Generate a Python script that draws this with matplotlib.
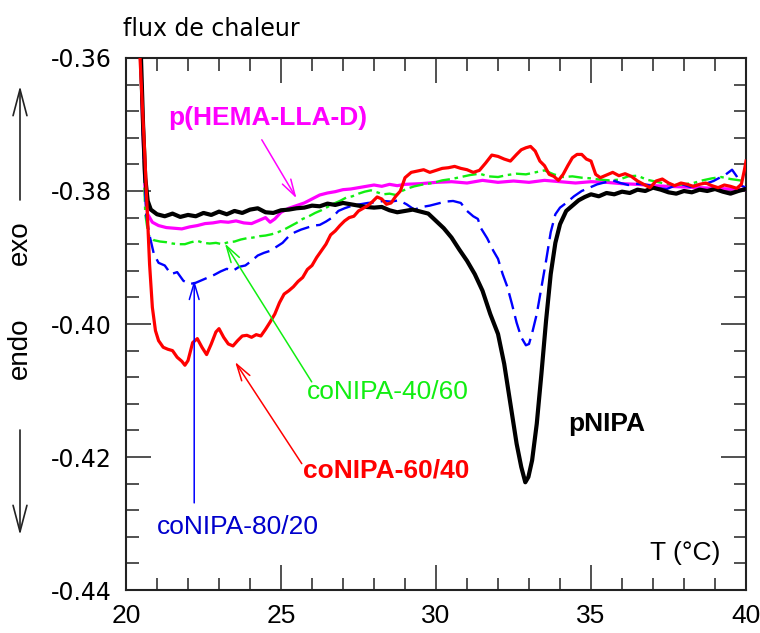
import matplotlib
matplotlib.use("Agg")
import matplotlib.pyplot as plt
from matplotlib.ticker import MultipleLocator

plt.rcParams['axes.unicode_minus'] = False

# ---------------- data ----------------
T_black = [20.45, 20.55, 20.62, 20.7, 20.8, 21.0, 21.25, 21.5, 21.75, 22.0, 22.25, 22.5, 22.75,
           23.0, 23.25, 23.5, 23.75, 24.0, 24.25, 24.5, 24.75, 25.0, 25.25, 25.5, 25.75, 26.0,
           26.25, 26.5, 26.75, 27.0, 27.25, 27.5, 27.75, 28.0, 28.25, 28.5, 28.75, 29.0, 29.25,
           29.5, 29.75, 30.0, 30.25, 30.5, 30.75, 31.0, 31.25, 31.5, 31.75, 32.0, 32.2, 32.4,
           32.6, 32.75, 32.88, 32.98, 33.1, 33.25, 33.4, 33.55, 33.7, 33.85, 34.0, 34.2, 34.4,
           34.6, 34.8, 35.0, 35.25, 35.5, 35.75, 36.0, 36.25, 36.5, 36.75, 37.0, 37.25, 37.5,
           37.75, 38.0, 38.25, 38.5, 38.75, 39.0, 39.25, 39.5, 39.75, 40.0]
Q_black = [-0.355, -0.370, -0.378, -0.3815, -0.3828, -0.3835, -0.3838, -0.3834, -0.3839, -0.3836,
           -0.3838, -0.3833, -0.3836, -0.3831, -0.3835, -0.3830, -0.3833, -0.3828, -0.3826, -0.3832,
           -0.3833, -0.3829, -0.3828, -0.3826, -0.3825, -0.3822, -0.3823, -0.3819, -0.3821, -0.3818,
           -0.3820, -0.3822, -0.3824, -0.3825, -0.3824, -0.3829, -0.3832, -0.3830, -0.3828, -0.3831,
           -0.3834, -0.3845, -0.3856, -0.3870, -0.3888, -0.3905, -0.3925, -0.3950, -0.3985, -0.4015,
           -0.4060, -0.4120, -0.4180, -0.4215, -0.4238, -0.4230, -0.4205, -0.4150, -0.4075, -0.3995,
           -0.3925, -0.3878, -0.3850, -0.3830, -0.3822, -0.3814, -0.3809, -0.3805, -0.3808, -0.3803,
           -0.3805, -0.3801, -0.3803, -0.3798, -0.3800, -0.3795, -0.3798, -0.3802, -0.3804, -0.3800,
           -0.3802, -0.3798, -0.3800, -0.3797, -0.3801, -0.3804, -0.3800, -0.3797]

T_blue = [20.45, 20.55, 20.65, 20.75, 20.9, 21.05, 21.25, 21.45, 21.65, 21.85, 22.05, 22.25, 22.45,
          22.65, 22.85, 23.05, 23.25, 23.45, 23.65, 23.85, 24.05, 24.25, 24.45, 24.65, 24.85, 25.05,
          25.25, 25.45, 25.65, 25.85, 26.05, 26.25, 26.45, 26.65, 26.85, 27.05, 27.3, 27.55, 27.8,
          28.05, 28.3, 28.55, 28.8, 29.05, 29.3, 29.55, 29.8, 30.05, 30.3, 30.55, 30.8, 31.0, 31.2,
          31.35, 31.45, 31.65, 31.85, 32.0, 32.15, 32.3, 32.45, 32.6, 32.75, 32.9, 33.0, 33.12,
          33.25, 33.4, 33.55, 33.7, 33.85, 34.0, 34.2, 34.45, 34.7, 34.95, 35.2, 35.45, 35.7, 35.95,
          36.2, 36.45, 36.7, 36.95, 37.2, 37.45, 37.7, 37.95, 38.2, 38.45, 38.7, 38.95, 39.15,
          39.35, 39.55, 39.7, 39.85, 40.0]
Q_blue = [-0.355, -0.372, -0.3835, -0.3865, -0.3895, -0.3908, -0.3912, -0.3925, -0.3922, -0.3935,
          -0.3940, -0.3938, -0.3934, -0.3930, -0.3926, -0.3921, -0.3917, -0.3920, -0.3914, -0.3912,
          -0.3905, -0.3897, -0.3893, -0.3890, -0.3884, -0.3878, -0.3868, -0.3862, -0.3858, -0.3855,
          -0.3852, -0.3851, -0.3846, -0.3840, -0.3830, -0.3826, -0.3822, -0.3820, -0.3818, -0.3817,
          -0.3815, -0.3816, -0.3814, -0.3820, -0.3828, -0.3824, -0.3822, -0.3819, -0.3816, -0.3815,
          -0.3818, -0.3830, -0.3838, -0.3842, -0.3856, -0.3871, -0.3890, -0.3902, -0.3925, -0.3944,
          -0.3970, -0.3998, -0.4020, -0.4032, -0.4030, -0.4010, -0.3985, -0.3945, -0.3905, -0.3862,
          -0.3835, -0.3825, -0.3818, -0.3808, -0.3800, -0.3795, -0.3790, -0.3787, -0.3784, -0.3788,
          -0.3791, -0.3789, -0.3790, -0.3792, -0.3796, -0.3797, -0.3792, -0.3790, -0.3794, -0.3790,
          -0.3789, -0.3785, -0.3780, -0.3775, -0.3768, -0.3778, -0.3792, -0.3795]

T_red = [20.4, 20.5, 20.6, 20.68, 20.76, 20.85, 20.95, 21.05, 21.2, 21.35, 21.5, 21.65, 21.8, 21.9,
         22.0, 22.15, 22.3, 22.45, 22.6, 22.75, 22.9, 23.0, 23.15, 23.3, 23.45, 23.6, 23.75, 23.9,
         24.05, 24.2, 24.35, 24.5, 24.65, 24.8, 24.95, 25.1, 25.25, 25.4, 25.55, 25.7, 25.85, 26.0,
         26.15, 26.3, 26.45, 26.6, 26.75, 26.9, 27.05, 27.2, 27.35, 27.5, 27.65, 27.8, 27.95, 28.1,
         28.25, 28.4, 28.55, 28.7, 28.85, 29.0, 29.2, 29.4, 29.6, 29.8, 30.0, 30.2, 30.4, 30.6,
         30.8, 31.0, 31.2, 31.4, 31.6, 31.8, 32.0, 32.2, 32.4, 32.6, 32.75, 32.9, 33.05, 33.2,
         33.35, 33.5, 33.65, 33.8, 33.95, 34.1, 34.25, 34.4, 34.55, 34.7, 34.85, 35.0, 35.15, 35.3,
         35.5, 35.7, 35.9, 36.1, 36.3, 36.5, 36.7, 36.9, 37.1, 37.3, 37.5, 37.7, 37.9, 38.1, 38.3,
         38.5, 38.7, 38.9, 39.1, 39.3, 39.5, 39.7, 39.85, 39.95, 40.0]
Q_red = [-0.355, -0.3646, -0.374, -0.3825, -0.391, -0.3975, -0.4010, -0.4025, -0.4035, -0.4038,
         -0.4040, -0.4050, -0.4056, -0.4062, -0.4055, -0.4028, -0.4022, -0.4035, -0.4046, -0.4030,
         -0.4012, -0.4007, -0.4020, -0.4030, -0.4033, -0.4025, -0.4018, -0.4017, -0.4020, -0.4016,
         -0.4018, -0.4008, -0.3997, -0.3985, -0.3968, -0.3955, -0.3950, -0.3944, -0.3936, -0.3930,
         -0.3918, -0.3912, -0.3900, -0.3890, -0.3880, -0.3866, -0.3860, -0.3852, -0.3845, -0.3840,
         -0.3838, -0.3830, -0.3826, -0.3822, -0.3816, -0.3809, -0.3812, -0.3820, -0.3818, -0.3808,
         -0.3800, -0.3780, -0.3772, -0.3770, -0.3768, -0.3772, -0.3769, -0.3766, -0.3765, -0.3763,
         -0.3766, -0.3768, -0.3772, -0.3769, -0.3758, -0.3746, -0.3748, -0.3752, -0.3755, -0.3745,
         -0.3738, -0.3735, -0.3733, -0.3740, -0.3755, -0.3762, -0.3775, -0.3778, -0.3784, -0.3775,
         -0.3762, -0.3750, -0.3745, -0.3745, -0.3752, -0.3755, -0.3775, -0.3780, -0.3776, -0.3772,
         -0.3777, -0.3774, -0.3778, -0.3785, -0.3790, -0.3795, -0.3785, -0.3782, -0.3788, -0.3792,
         -0.3788, -0.3790, -0.3793, -0.3790, -0.3788, -0.3792, -0.3795, -0.3791, -0.3793, -0.3796,
         -0.3790, -0.3768, -0.3755]

T_mag = [20.45, 20.55, 20.62, 20.7, 20.85, 21.05, 21.3, 21.55, 21.8, 22.05, 22.3, 22.55, 22.8, 23.05,
         23.3, 23.55, 23.8, 24.05, 24.3, 24.5, 24.65, 24.8, 25.0, 25.25, 25.5, 25.75, 26.0, 26.25,
         26.5, 26.75, 27.0, 27.25, 27.5, 27.75, 28.0, 28.25, 28.5, 28.75, 29.0, 29.5, 30.0, 30.5,
         31.0, 31.5, 32.0, 32.5, 33.0, 33.5, 34.0, 34.5, 35.0, 35.5, 36.0, 36.5, 37.0, 37.5, 38.0,
         38.5, 39.0, 39.5, 40.0]
Q_mag = [-0.355, -0.372, -0.3805, -0.3835, -0.3847, -0.3852, -0.3855, -0.3856, -0.3857, -0.3854,
         -0.3852, -0.3849, -0.3848, -0.3846, -0.3847, -0.3845, -0.3848, -0.3849, -0.3844, -0.3840,
         -0.3847, -0.3842, -0.3832, -0.3826, -0.3822, -0.3818, -0.3812, -0.3806, -0.3803, -0.3801,
         -0.3798, -0.3797, -0.3795, -0.3793, -0.3791, -0.3793, -0.3790, -0.3792, -0.3790, -0.3789,
         -0.3787, -0.3786, -0.3788, -0.3784, -0.3787, -0.3785, -0.3787, -0.3784, -0.3786, -0.3788,
         -0.3786, -0.3787, -0.3789, -0.3790, -0.3792, -0.3793, -0.3794, -0.3795, -0.3796, -0.3797,
         -0.3798]

T_green = [20.45, 20.55, 20.62, 20.72, 20.9, 21.1, 21.3, 21.5, 21.7, 21.9, 22.1, 22.3, 22.5, 22.7,
           22.9, 23.1, 23.3, 23.5, 23.7, 23.9, 24.1, 24.3, 24.5, 24.7, 24.9, 25.1, 25.3, 25.5, 25.7,
           25.9, 26.1, 26.3, 26.5, 26.7, 26.9, 27.1, 27.3, 27.5, 27.7, 27.9, 28.1, 28.3, 28.5, 28.7,
           28.9, 29.1, 29.3, 29.6, 29.9, 30.2, 30.5, 30.8, 31.1, 31.4, 31.7, 32.0, 32.3, 32.6, 32.9,
           33.2, 33.5, 33.8, 34.1, 34.4, 34.7, 35.0, 35.3, 35.6, 35.9, 36.2, 36.5, 36.8, 37.1, 37.4,
           37.7, 38.0, 38.3, 38.6, 38.9, 39.2, 39.5, 39.8, 40.0]
Q_green = [-0.355, -0.372, -0.3834, -0.3866, -0.3874, -0.3876, -0.3877, -0.3879, -0.3880, -0.3880,
           -0.3877, -0.3875, -0.3878, -0.3879, -0.3878, -0.3880, -0.3877, -0.3876, -0.3873, -0.3871,
           -0.3870, -0.3868, -0.3867, -0.3865, -0.3862, -0.3858, -0.3853, -0.3848, -0.3842, -0.3838,
           -0.3833, -0.3829, -0.3824, -0.3819, -0.3815, -0.3810, -0.3808, -0.3804, -0.3801, -0.3799,
           -0.3802, -0.3805, -0.3804, -0.3806, -0.3800, -0.3796, -0.3793, -0.3790, -0.3788, -0.3784,
           -0.3782, -0.3779, -0.3776, -0.3774, -0.3778, -0.3779, -0.3776, -0.3774, -0.3775, -0.3772,
           -0.3769, -0.3775, -0.3779, -0.3778, -0.3780, -0.3781, -0.3783, -0.3784, -0.3783, -0.3778,
           -0.3777, -0.3783, -0.3786, -0.3789, -0.3791, -0.3790, -0.3788, -0.3784, -0.3781, -0.3779,
           -0.3782, -0.3784, -0.3786]

x_ticks = [20, 25, 30, 35, 40]
y_ticks = [-0.44, -0.42, -0.40, -0.38, -0.36]
y_tick_labels = ['-0.44', '-0.42', '-0.40', '-0.38', '-0.36']

# ---------------- figure ----------------
fig = plt.figure(figsize=(7.6, 6.33), dpi=100)
ax = fig.add_axes([0.1658, 0.0679, 0.8158, 0.8405])

ax.plot(T_mag, Q_mag, color='#ff00ff', lw=2.3, zorder=3)
ax.plot(T_green, Q_green, color='#11ee11', lw=1.7, dashes=[6, 2, 1.5, 2], zorder=3)
ax.plot(T_blue, Q_blue, color='#0000ff', lw=1.7, dashes=[7, 3], zorder=3)
ax.plot(T_black, Q_black, color='black', lw=3.0, zorder=4)
ax.plot(T_red, Q_red, color='#ff0000', lw=2.3, zorder=5)

ax.set_xlim(20, 40)
ax.set_ylim(-0.44, -0.36)
ax.set_xticks(x_ticks)
ax.set_yticks(y_ticks)
ax.set_yticklabels(y_tick_labels)
ax.xaxis.set_minor_locator(MultipleLocator(1))
ax.yaxis.set_minor_locator(MultipleLocator(0.004))
ax.tick_params(which='both', direction='in', top=True, right=True, width=1.1, color='#222222')
ax.tick_params(which='major', length=18)
ax.tick_params(which='minor', length=9)
ax.tick_params(axis='x', which='major', pad=10, labelsize=19)
ax.tick_params(axis='y', which='major', pad=10, labelsize=17)
for lab in ax.get_xticklabels():
    lab.set_fontfamily('Liberation Sans')
for lab in ax.get_yticklabels():
    lab.set_fontfamily('DejaVu Sans')
for s in ax.spines.values():
    s.set_linewidth(1.5)
    s.set_color('#222222')

lab_font = 'Liberation Sans'
ax.text(21.35, -0.3690, 'p(HEMA-LLA-D)', color='#ff00ff', fontsize=19, fontweight='bold',
        family=lab_font, va='center', ha='left')
ax.text(25.83, -0.4102, 'coNIPA-40/60', color='#11ee11', fontsize=19,
        family=lab_font, va='center', ha='left')
ax.text(25.72, -0.4220, 'coNIPA-60/40', color='#ff0000', fontsize=19, fontweight='bold',
        family=lab_font, va='center', ha='left')
ax.text(20.99, -0.4305, 'coNIPA-80/20', color='#0000cc', fontsize=19,
        family=lab_font, va='center', ha='left')
ax.text(34.28, -0.4151, 'pNIPA', color='black', fontsize=19, fontweight='bold',
        family=lab_font, va='center', ha='left')
ax.text(39.16, -0.4344, 'T (°C)', color='black', fontsize=19,
        family=lab_font, va='center', ha='right')

def arrow(tip, tail, color):
    ax.annotate('', xy=tip, xytext=tail,
                arrowprops=dict(arrowstyle='->,head_length=1.2,head_width=0.35',
                                color=color, lw=1.1, shrinkA=0, shrinkB=0), zorder=6)

arrow((25.5, -0.3811), (24.38, -0.3723), '#ff00ff')
arrow((23.19, -0.3879), (25.99, -0.4087), '#11ee11')
arrow((23.52, -0.4057), (25.67, -0.4210), '#ff0000')
arrow((22.2, -0.3934), (22.2, -0.4269), '#0000ff')

fig.text(123 / 760, 1 - 36 / 633, 'flux de chaleur', fontsize=17, family='DejaVu Sans',
         ha='left', va='baseline')
fig.text(20 / 760, 1 - 242.5 / 633, 'exo', fontsize=20, family='Liberation Sans',
         rotation=90, ha='center', va='center')
fig.text(20 / 760, 1 - 348 / 633, 'endo', fontsize=20, family='Liberation Sans',
         rotation=90, ha='center', va='center')
fig.add_artist(matplotlib.patches.FancyArrowPatch(
    (20 / 760, 1 - 200 / 633), (20 / 760, 1 - 86 / 633), transform=fig.transFigure,
    arrowstyle='->,head_length=1.9,head_width=0.5', color='#222222', lw=1.2, mutation_scale=10,
    shrinkA=0, shrinkB=0))
fig.add_artist(matplotlib.patches.FancyArrowPatch(
    (20 / 760, 1 - 430 / 633), (20 / 760, 1 - 535 / 633), transform=fig.transFigure,
    arrowstyle='->,head_length=1.9,head_width=0.5', color='#222222', lw=1.2, mutation_scale=10,
    shrinkA=0, shrinkB=0))

fig.savefig('out.png', dpi=100)
